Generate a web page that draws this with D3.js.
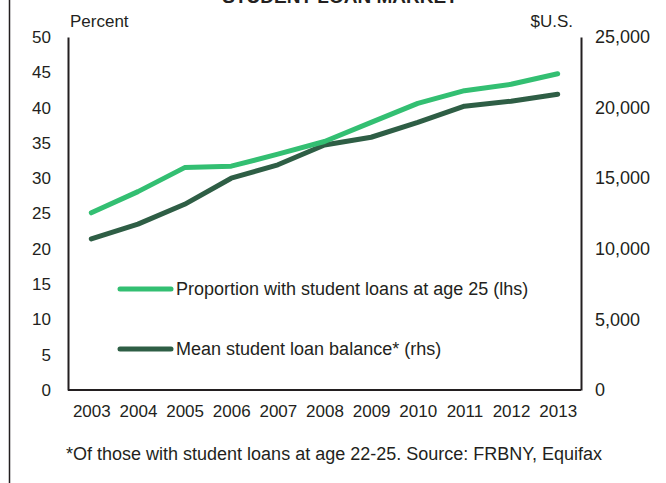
<!DOCTYPE html>
<html>
<head>
<meta charset="utf-8">
<script src="https://cdn.jsdelivr.net/npm/d3@7"></script>
<style>
  body { margin: 0; background: #fff; }
  svg text { font-family: "Liberation Sans", Arial, sans-serif; fill: #231f20; }
</style>
</head>
<body>
<div id="chart"></div>
<script>
// Data.
var years = ["2003", "2004", "2005", "2006", "2007", "2008", "2009", "2010", "2011", "2012", "2013"];
var proportion = [25.1, 28.1, 31.5, 31.7, 33.4, 35.2, 37.9, 40.6, 42.4, 43.3, 44.8];
var balance = [10700, 11750, 13150, 15000, 15950, 17350, 17900, 18950, 20100, 20450, 20950];
var leftTicks = [0, 5, 10, 15, 20, 25, 30, 35, 40, 45, 50];
var rightTicks = [0, 5000, 10000, 15000, 20000, 25000];

var width = 666;
var height = 483;
var margin = {top: 37, right: 85, bottom: 93, left: 68};

var lightGreen = "#33bf72";
var darkGreen = "#2e5e45";

var svg = d3.select("#chart")
    .append("svg")
    .attr("width", width)
    .attr("height", height);

// Left frame line.
svg.append("line")
    .attr("x1", 9.5).attr("x2", 9.5)
    .attr("y1", 0).attr("y2", height)
    .attr("stroke", "#231f20")
    .attr("stroke-width", 1.5);

// Title, clipped at the top of the picture (as in the original).
svg.append("text")
    .attr("x", 340)
    .attr("y", 3)
    .attr("text-anchor", "middle")
    .style("font-weight", "bold")
    .style("font-size", "19px")
    .text("STUDENT LOAN MARKET");

var x = d3.scalePoint()
    .domain(years)
    .range([margin.left, width - margin.right])
    .padding(0.5);

var yLeft = d3.scaleLinear()
    .domain([0, 50])
    .range([height - margin.bottom, margin.top]);

var yRight = d3.scaleLinear()
    .domain([0, 25000])
    .range([height - margin.bottom, margin.top]);

// Axes (no tick marks, just the lines and labels).
var xAxis = d3.axisBottom(x).tickSize(0).tickPadding(15);
var leftAxis = d3.axisLeft(yLeft).tickValues(leftTicks).tickSize(0).tickPadding(17);
var rightAxis = d3.axisRight(yRight).tickValues(rightTicks).tickSize(0).tickPadding(14)
    .tickFormat(d3.format(","));

function styleAxis(g) {
  g.select(".domain").attr("stroke", "#231f20").attr("stroke-width", 2);
  g.selectAll("text").style("font-size", "17px").attr("fill", "#231f20");
}

svg.append("g")
    .attr("transform", "translate(0," + (height - margin.bottom) + ")")
    .call(xAxis)
    .call(g => g.select(".domain").attr("d", "M" + margin.left + ",0H" + (width - margin.right)))
    .call(styleAxis);

svg.append("g")
    .attr("transform", "translate(" + margin.left + ",0)")
    .call(leftAxis)
    .call(styleAxis);

svg.append("g")
    .attr("transform", "translate(" + (width - margin.right) + ",0)")
    .call(rightAxis)
    .call(styleAxis)
    .call(g => g.selectAll("text").style("font-size", "18px"));

// Axis unit labels.
svg.append("text")
    .attr("x", 70).attr("y", 27)
    .style("font-size", "17px")
    .text("Percent");

svg.append("text")
    .attr("x", 573).attr("y", 27)
    .attr("text-anchor", "end")
    .style("font-size", "17px")
    .text("$U.S.");

// Lines.
var lineLeft = d3.line()
    .x((d, i) => x(years[i]))
    .y(d => yLeft(d));

var lineRight = d3.line()
    .x((d, i) => x(years[i]))
    .y(d => yRight(d));

svg.append("path")
    .datum(balance)
    .attr("d", lineRight)
    .attr("fill", "none")
    .attr("stroke", darkGreen)
    .attr("stroke-width", 5)
    .attr("stroke-linecap", "round")
    .attr("stroke-linejoin", "round");

svg.append("path")
    .datum(proportion)
    .attr("d", lineLeft)
    .attr("fill", "none")
    .attr("stroke", lightGreen)
    .attr("stroke-width", 5)
    .attr("stroke-linecap", "round")
    .attr("stroke-linejoin", "round");

// Legend.
var legend = [
  {label: "Proportion with student loans at age 25 (lhs)", color: lightGreen, y: 289},
  {label: "Mean student loan balance* (rhs)", color: darkGreen, y: 349}
];

legend.forEach(function(item) {
  svg.append("line")
      .attr("x1", 120).attr("x2", 171)
      .attr("y1", item.y).attr("y2", item.y)
      .attr("stroke", item.color)
      .attr("stroke-width", 5)
      .attr("stroke-linecap", "round");
  svg.append("text")
      .attr("x", 176)
      .attr("y", item.y)
      .attr("dy", "0.35em")
      .style("font-size", "18px")
      .text(item.label);
});

// Footnote.
svg.append("text")
    .attr("x", 334)
    .attr("y", 460)
    .attr("text-anchor", "middle")
    .style("font-size", "18px")
    .text("*Of those with student loans at age 22-25. Source: FRBNY, Equifax");
</script>
</body>
</html>
